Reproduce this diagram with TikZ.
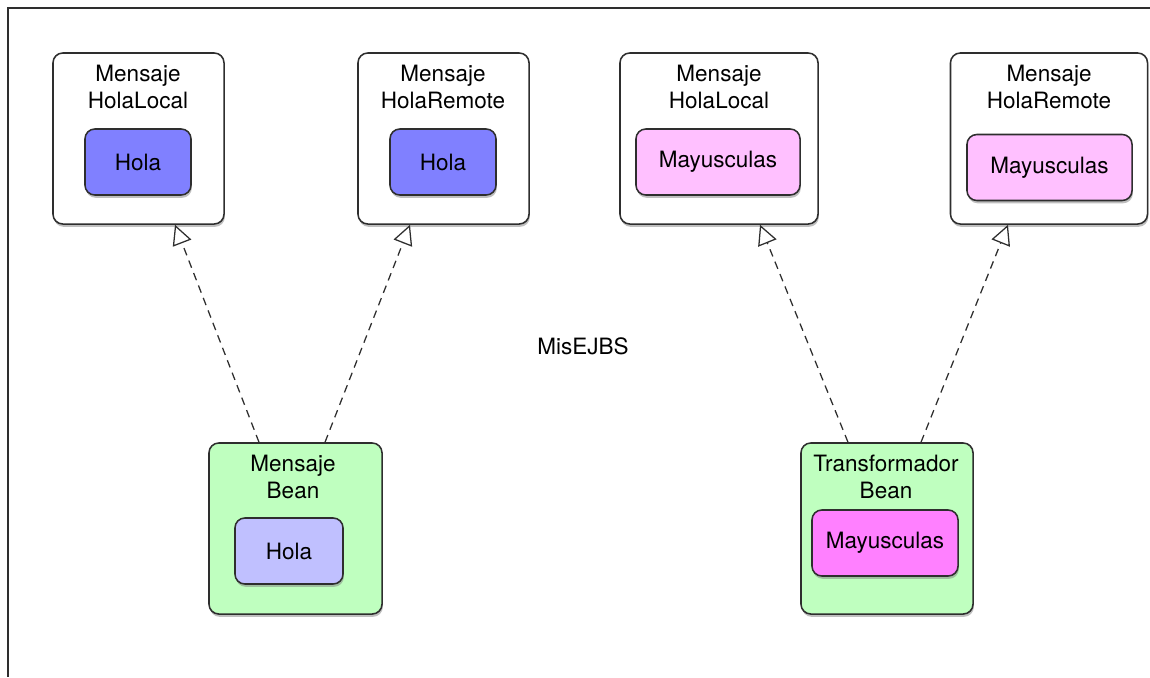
\documentclass[tikz,border=0pt]{standalone}
\usepackage{fontspec}
\setmainfont{TeX Gyre Heros}
\usepackage{tikz}
\usetikzlibrary{arrows.meta,shadows}
\definecolor{borde}{HTML}{2E2E2E}
\definecolor{verdebean}{HTML}{BFFFBF}
\definecolor{azulhola}{HTML}{8080FF}
\definecolor{lilahola}{HTML}{C0C0FF}
\definecolor{rosamay}{HTML}{FFC0FF}
\definecolor{magentamay}{HTML}{FF80FF}

\begin{document}
\begin{tikzpicture}[x=0.025cm, y=-0.025cm,
  every node/.style={font=\fontsize{16}{19}\selectfont, text=black},
  sombra/.style={drop shadow={shadow xshift=0.6pt, shadow yshift=-2pt, opacity=0.5}},
  caja/.style={draw=borde, line width=1.1pt, rounded corners=7pt, fill=white, minimum height=4.275cm, sombra},
  metodo/.style={draw=borde, line width=1.1pt, rounded corners=7pt, minimum height=1.65cm, sombra},
  titulo/.style={align=center, anchor=north, inner sep=0pt},
  implementa/.style={draw=borde, line width=0.9pt, dash pattern=on 5.5pt off 4pt,
    -{Triangle[open, length=14pt, width=14pt, line width=0.9pt]}}]
  \useasboundingbox (0,0) rectangle (1150,677);
  \draw[borde, line width=1.1pt] (1150,8) -- (8,8) -- (8,677);

  % interfaces
  \node[caja, minimum width=4.275cm] (localhola) at (138.5,138.5) {};
  \node[titulo] at (138,65) {Mensaje\\HolaLocal};
  \node[metodo, fill=azulhola, minimum width=2.65cm] (hlocal) at (138,162) {Hola};

  \node[caja, minimum width=4.275cm] (remotohola) at (443.5,138.5) {};
  \node[titulo] at (443,65) {Mensaje\\HolaRemote};
  \node[metodo, fill=azulhola, minimum width=2.65cm] (hremoto) at (443,162) {Hola};

  \node[caja, minimum width=4.95cm] (localmay) at (719,138.5) {};
  \node[titulo] at (719,65) {Mensaje\\HolaLocal};
  \node[metodo, fill=rosamay, minimum width=4.1cm] (mlocal) at (718,162) {Mayusculas};

  \node[caja, minimum width=4.925cm] (remotomay) at (1049,138.5) {};
  \node[titulo] at (1049,65) {Mensaje\\HolaRemote};
  \node[metodo, fill=rosamay, minimum width=4.125cm] (mremoto) at (1049.5,167.5) {Mayusculas};

  % beans
  \node[caja, fill=verdebean, minimum width=4.325cm] (beanhola) at (295.5,528.5) {};
  \node[titulo] at (293,455) {Mensaje\\Bean};
  \node[metodo, fill=lilahola, minimum width=2.7cm] (hbean) at (289,551) {Hola};

  \node[caja, fill=verdebean, minimum width=4.3cm] (beanmay) at (887,528.5) {};
  \node[titulo] at (886,455) {Transformador\\Bean};
  \node[metodo, fill=magentamay, minimum width=3.65cm] (mbean) at (885,543) {Mayusculas};

  \node (paquete) at (583,346) {MisEJBS};

  \draw[implementa] ([xshift=-0.9125cm]beanhola.north) -- ([xshift=0.9125cm]localhola.south);
  \draw[implementa] ([xshift=0.7375cm]beanhola.north) -- ([xshift=-0.8375cm]remotohola.south);
  \draw[implementa] ([xshift=-0.975cm]beanmay.north) -- ([xshift=1.025cm]localmay.south);
  \draw[implementa] ([xshift=0.85cm]beanmay.north) -- ([xshift=-1.025cm]remotomay.south);
\end{tikzpicture}
\end{document}
